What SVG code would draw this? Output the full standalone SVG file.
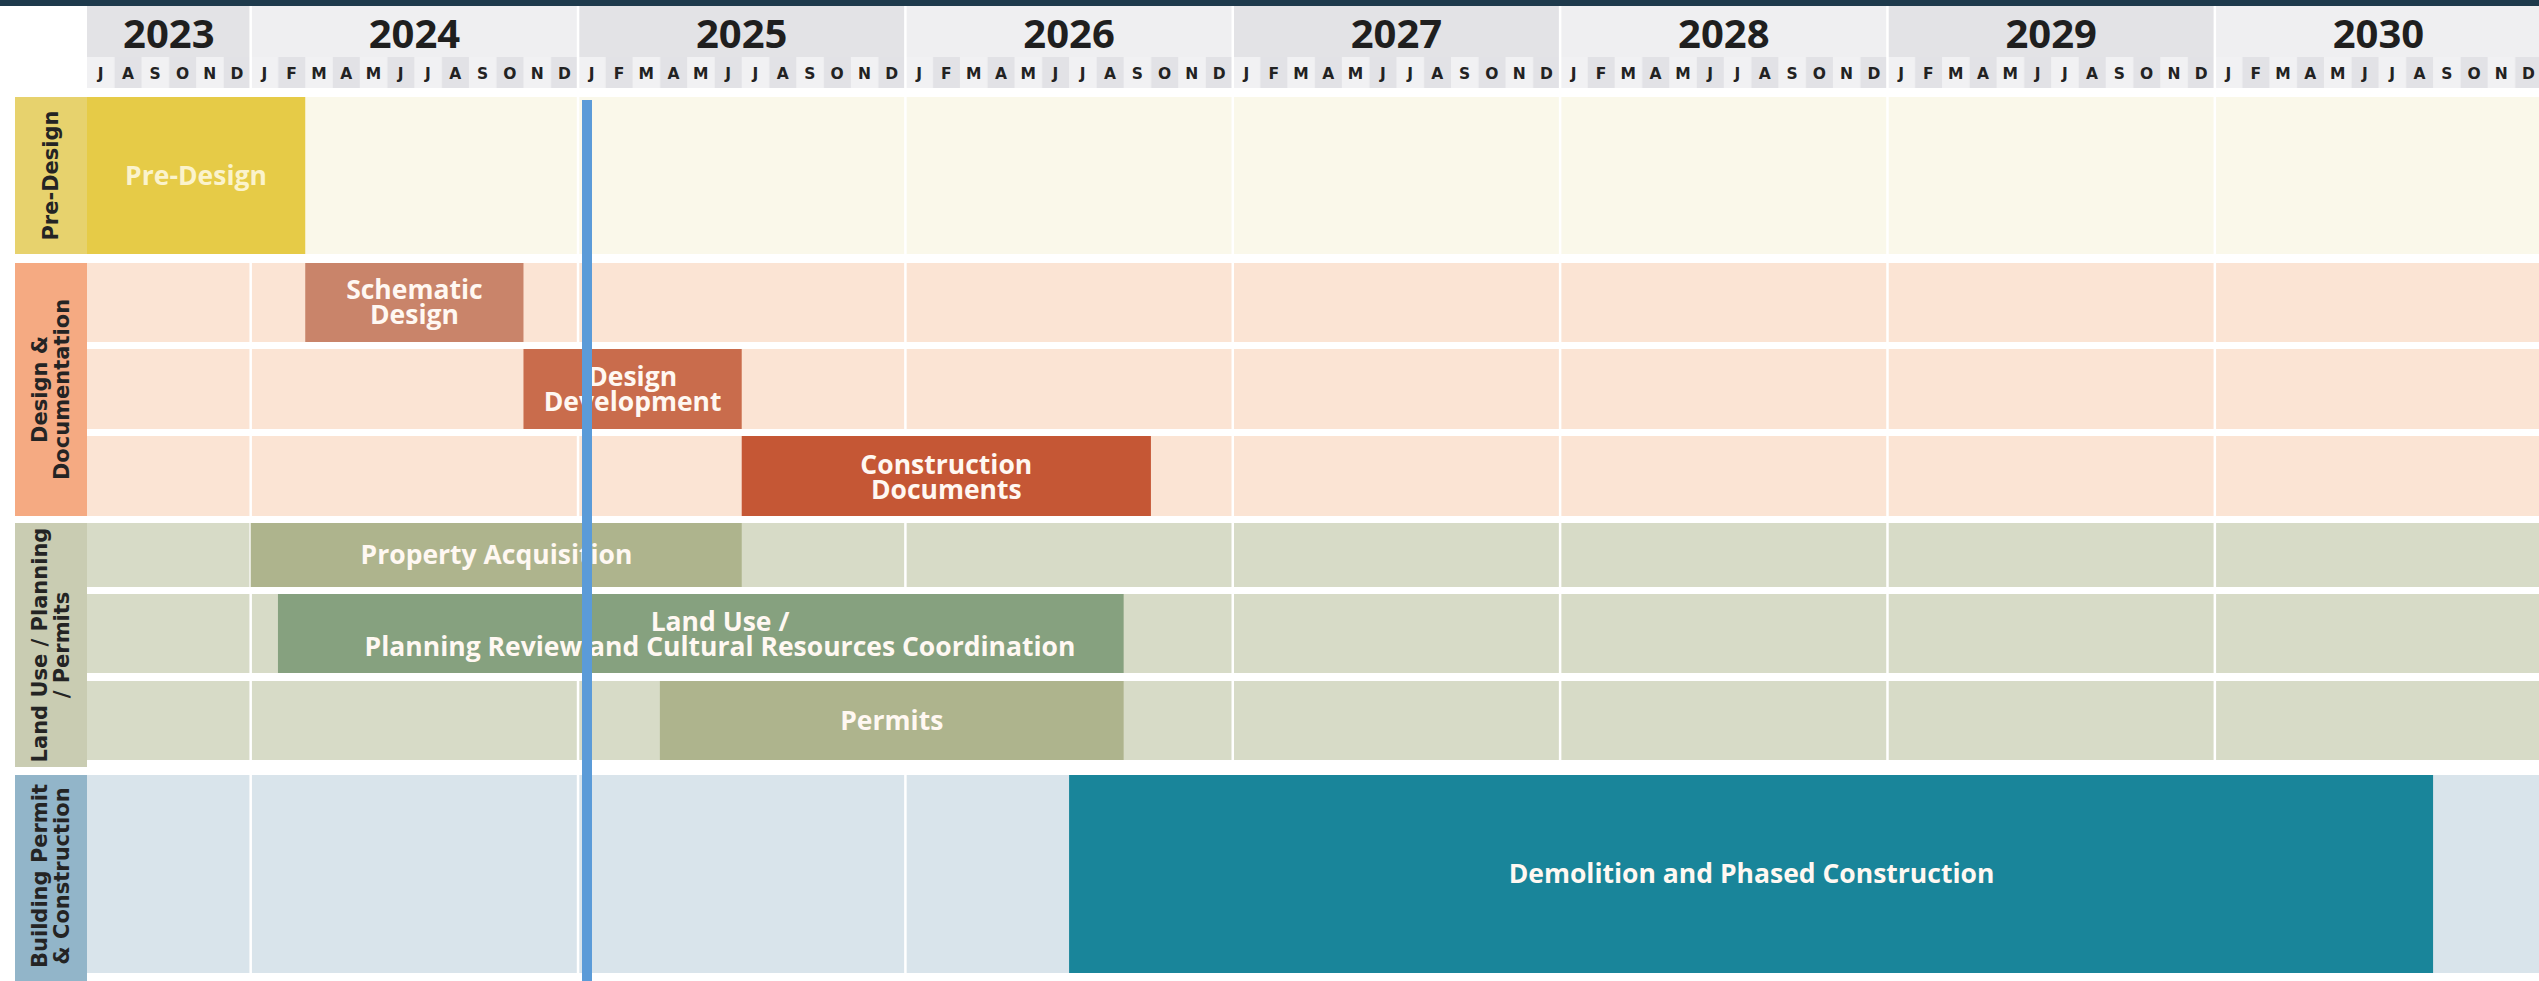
<svg xmlns="http://www.w3.org/2000/svg" width="2539" height="981" viewBox="0 0 2539 981">
<style>
.yr{font-family:"Open Sans","Liberation Sans",sans-serif;font-weight:700;font-size:40px;fill:#1f1f1f;text-anchor:middle}
.mon text{font-family:"DejaVu Sans","Liberation Sans",sans-serif;font-weight:700;font-size:15.5px;fill:#222;text-anchor:middle}
.lbl{font-family:"DejaVu Sans","Liberation Sans",sans-serif;font-weight:700;font-size:21px;fill:#242424;text-anchor:middle}
.bt{font-family:"Open Sans","Liberation Sans",sans-serif;font-weight:700;font-size:26.5px;fill:#fff8f2;text-anchor:middle}
.sep{stroke:#ffffff;stroke-width:2.5}
</style>
<defs>
<pattern id="monthPat" patternUnits="userSpaceOnUse" x="87" y="57" width="54.56" height="31">
<rect x="0" y="0" width="27.28" height="31" fill="#f1f1f3"/>
<rect x="27.28" y="0" width="27.28" height="31" fill="#e2e2e6"/>
</pattern>
</defs>
<rect x="0" y="0" width="2539" height="981" fill="#ffffff"/>
<rect x="0" y="0" width="2539" height="6" fill="#1e3a4c"/>

<g id="header">
<rect x="87" y="6" width="163.68" height="51" fill="#e3e3e6"/>
<rect x="250.68" y="6" width="327.36" height="51" fill="#efeff1"/>
<rect x="578.04" y="6" width="327.36" height="51" fill="#e3e3e6"/>
<rect x="905.4" y="6" width="327.36" height="51" fill="#efeff1"/>
<rect x="1232.76" y="6" width="327.36" height="51" fill="#e3e3e6"/>
<rect x="1560.12" y="6" width="327.36" height="51" fill="#efeff1"/>
<rect x="1887.48" y="6" width="327.36" height="51" fill="#e3e3e6"/>
<rect x="2214.84" y="6" width="327.36" height="51" fill="#efeff1"/>
<rect x="87" y="57" width="2452" height="31" fill="url(#monthPat)"/>
<text class="yr" x="168.8" y="48">2023</text>
<text class="yr" x="414.4" y="48">2024</text>
<text class="yr" x="741.7" y="48">2025</text>
<text class="yr" x="1069.1" y="48">2026</text>
<text class="yr" x="1396.4" y="48">2027</text>
<text class="yr" x="1723.8" y="48">2028</text>
<text class="yr" x="2051.2" y="48">2029</text>
<text class="yr" x="2378.5" y="48">2030</text>
<g class="mon">
<text x="100.64" y="79">J</text><text x="127.92" y="79">A</text><text x="155.2" y="79">S</text><text x="182.48" y="79">O</text><text x="209.76" y="79">N</text><text x="237.04" y="79">D</text>
<text x="264.32" y="79">J</text><text x="291.6" y="79">F</text><text x="318.88" y="79">M</text><text x="346.16" y="79">A</text><text x="373.44" y="79">M</text><text x="400.72" y="79">J</text><text x="428" y="79">J</text><text x="455.28" y="79">A</text><text x="482.56" y="79">S</text><text x="509.84" y="79">O</text><text x="537.12" y="79">N</text><text x="564.4" y="79">D</text>
<text x="591.68" y="79">J</text><text x="618.96" y="79">F</text><text x="646.24" y="79">M</text><text x="673.52" y="79">A</text><text x="700.8" y="79">M</text><text x="728.08" y="79">J</text><text x="755.36" y="79">J</text><text x="782.64" y="79">A</text><text x="809.92" y="79">S</text><text x="837.2" y="79">O</text><text x="864.48" y="79">N</text><text x="891.76" y="79">D</text>
<text x="919.04" y="79">J</text><text x="946.32" y="79">F</text><text x="973.6" y="79">M</text><text x="1000.88" y="79">A</text><text x="1028.16" y="79">M</text><text x="1055.44" y="79">J</text><text x="1082.72" y="79">J</text><text x="1110" y="79">A</text><text x="1137.28" y="79">S</text><text x="1164.56" y="79">O</text><text x="1191.84" y="79">N</text><text x="1219.12" y="79">D</text>
<text x="1246.4" y="79">J</text><text x="1273.68" y="79">F</text><text x="1300.96" y="79">M</text><text x="1328.24" y="79">A</text><text x="1355.52" y="79">M</text><text x="1382.8" y="79">J</text><text x="1410.08" y="79">J</text><text x="1437.36" y="79">A</text><text x="1464.64" y="79">S</text><text x="1491.92" y="79">O</text><text x="1519.2" y="79">N</text><text x="1546.48" y="79">D</text>
<text x="1573.76" y="79">J</text><text x="1601.04" y="79">F</text><text x="1628.32" y="79">M</text><text x="1655.6" y="79">A</text><text x="1682.88" y="79">M</text><text x="1710.16" y="79">J</text><text x="1737.44" y="79">J</text><text x="1764.72" y="79">A</text><text x="1792" y="79">S</text><text x="1819.28" y="79">O</text><text x="1846.56" y="79">N</text><text x="1873.84" y="79">D</text>
<text x="1901.12" y="79">J</text><text x="1928.4" y="79">F</text><text x="1955.68" y="79">M</text><text x="1982.96" y="79">A</text><text x="2010.24" y="79">M</text><text x="2037.52" y="79">J</text><text x="2064.8" y="79">J</text><text x="2092.08" y="79">A</text><text x="2119.36" y="79">S</text><text x="2146.64" y="79">O</text><text x="2173.92" y="79">N</text><text x="2201.2" y="79">D</text>
<text x="2228.48" y="79">J</text><text x="2255.76" y="79">F</text><text x="2283.04" y="79">M</text><text x="2310.32" y="79">A</text><text x="2337.6" y="79">M</text><text x="2364.88" y="79">J</text><text x="2392.16" y="79">J</text><text x="2419.44" y="79">A</text><text x="2446.72" y="79">S</text><text x="2474" y="79">O</text><text x="2501.28" y="79">N</text><text x="2528.56" y="79">D</text>
</g>
</g>

<g id="row-backgrounds">
<rect x="87" y="97" width="2452" height="157" fill="#faf8ea"/>
<rect x="87" y="263" width="2452" height="79" fill="#fbe4d4"/>
<rect x="87" y="349" width="2452" height="80" fill="#fbe4d4"/>
<rect x="87" y="436" width="2452" height="80" fill="#fbe4d4"/>
<rect x="87" y="523" width="2452" height="64" fill="#d7dbc7"/>
<rect x="87" y="594" width="2452" height="79" fill="#d7dbc7"/>
<rect x="87" y="681" width="2452" height="79" fill="#d7dbc7"/>
<rect x="87" y="775" width="2452" height="198" fill="#d9e4eb"/>
</g>

<g id="year-separators">
<line class="sep" x1="250.68" y1="6" x2="250.68" y2="975"/>
<line class="sep" x1="578.04" y1="6" x2="578.04" y2="975"/>
<line class="sep" x1="905.4" y1="6" x2="905.4" y2="975"/>
<line class="sep" x1="1232.76" y1="6" x2="1232.76" y2="975"/>
<line class="sep" x1="1560.12" y1="6" x2="1560.12" y2="975"/>
<line class="sep" x1="1887.48" y1="6" x2="1887.48" y2="975"/>
<line class="sep" x1="2214.84" y1="6" x2="2214.84" y2="975"/>
</g>

<g id="label-pre-design">
<rect x="15" y="97" width="72" height="157" fill="#e7d26d"/>
<text class="lbl" transform="translate(58,175.5) rotate(-90)">Pre-Design</text>
</g>
<g id="label-design-documentation">
<rect x="15" y="263" width="72" height="253" fill="#f5aa82"/>
<text class="lbl" transform="translate(47,389.5) rotate(-90)">Design &amp;</text>
<text class="lbl" transform="translate(68.5,389.5) rotate(-90)">Documentation</text>
</g>
<g id="label-land-use">
<rect x="15" y="523" width="72" height="244" fill="#c9ccb2"/>
<text class="lbl" transform="translate(47,645) rotate(-90)">Land Use / Planning</text>
<text class="lbl" transform="translate(68.5,645) rotate(-90)">/ Permits</text>
</g>
<g id="label-building">
<rect x="15" y="775" width="72" height="206" fill="#92b5c9"/>
<text class="lbl" transform="translate(47,876) rotate(-90)">Building Permit</text>
<text class="lbl" transform="translate(68.5,876) rotate(-90)">&amp; Construction</text>
</g>

<g id="bar-pre-design">
<rect x="87" y="97" width="218.24" height="157" fill="#e6cb47"/>
<text class="bt" x="196" y="184.5" style="fill:#fbf3cc">Pre-Design</text>
</g>
<g id="bar-schematic-design">
<rect x="305.24" y="263" width="218.24" height="79" fill="#c9846a"/>
<text class="bt" x="414.4" y="299">Schematic</text>
<text class="bt" x="414.4" y="324">Design</text>
</g>
<g id="bar-design-development">
<rect x="523.48" y="349" width="218.24" height="80" fill="#c96c4c"/>
<text class="bt" x="632.6" y="386">Design</text>
<text class="bt" x="632.6" y="411">Development</text>
</g>
<g id="bar-construction-documents">
<rect x="741.72" y="436" width="409.2" height="80" fill="#c55735"/>
<text class="bt" x="946.3" y="474">Construction</text>
<text class="bt" x="946.3" y="499">Documents</text>
</g>
<g id="bar-property-acquisition">
<rect x="250.68" y="523" width="491.04" height="64" fill="#aeb48d"/>
<text class="bt" x="496.5" y="564">Property Acquisition</text>
</g>
<g id="bar-land-use-planning">
<rect x="277.96" y="594" width="845.68" height="79" fill="#86a17f"/>
<text class="bt" x="720" y="631">Land Use /</text>
<text class="bt" x="720" y="656">Planning Review and Cultural Resources Coordination</text>
</g>
<g id="bar-permits">
<rect x="659.88" y="681" width="463.76" height="79" fill="#aeb48d"/>
<text class="bt" x="891.8" y="730">Permits</text>
</g>
<g id="bar-demolition-construction">
<rect x="1069.08" y="775" width="1364" height="198" fill="#19859a"/>
<text class="bt" x="1751.5" y="883">Demolition and Phased Construction</text>
</g>

<g id="connectors">
<rect id="current-date-marker" x="582" y="100" width="10" height="881" fill="#5b9bd8"/>
</g>
</svg>
